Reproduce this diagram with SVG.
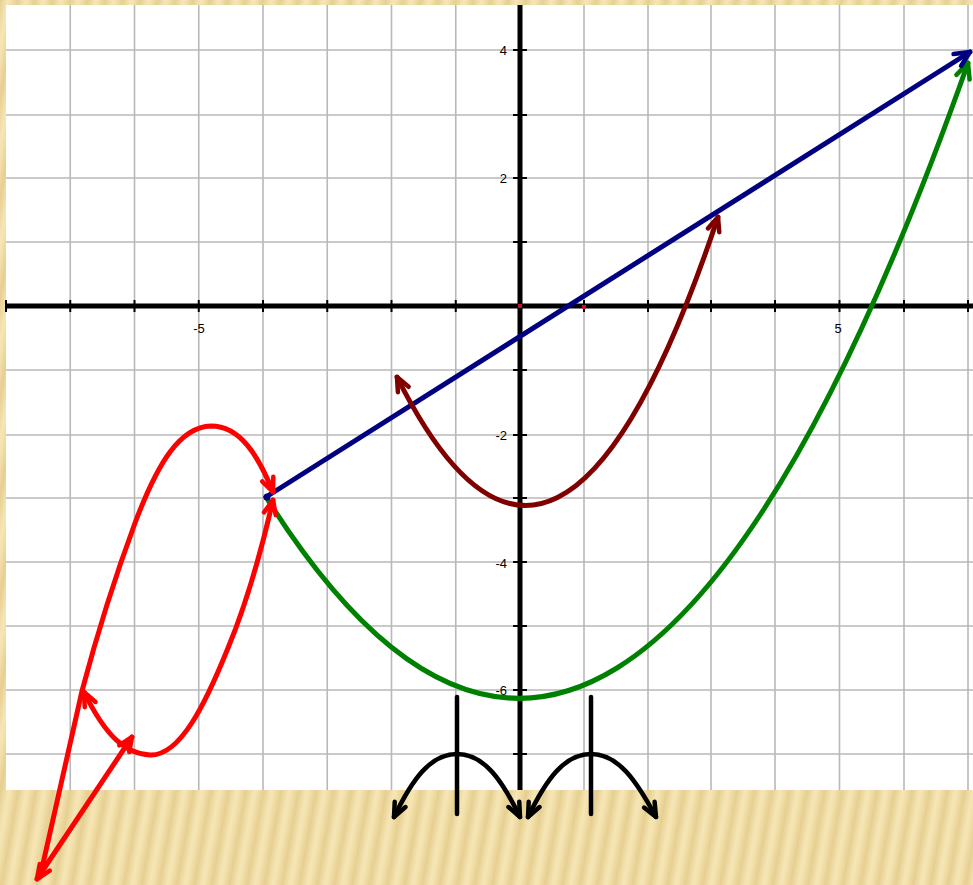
<svg xmlns="http://www.w3.org/2000/svg" width="973" height="885" viewBox="0 0 973 885">
<defs>
<linearGradient id="stripes" gradientUnits="userSpaceOnUse" x1="0" y1="0" x2="17" y2="3" spreadMethod="repeat">
<stop offset="0" stop-color="#E6CF91"/>
<stop offset="0.45" stop-color="#F6E6B6"/>
<stop offset="0.6" stop-color="#F4E2AE"/>
<stop offset="1" stop-color="#E6CF91"/>
</linearGradient>
<marker id="ar-red" viewBox="-18 -10 22 20" refX="0" refY="0" markerWidth="22" markerHeight="20" markerUnits="userSpaceOnUse" orient="auto-start-reverse" overflow="visible"><path d="M-14,-6 L0,0 L-14,6" fill="none" stroke="#FF0000" stroke-width="4.5" stroke-linecap="round" stroke-linejoin="round"/></marker>
<marker id="ar-maroon" viewBox="-18 -10 22 20" refX="0" refY="0" markerWidth="22" markerHeight="20" markerUnits="userSpaceOnUse" orient="auto-start-reverse" overflow="visible"><path d="M-14,-6 L0,0 L-14,6" fill="none" stroke="#800000" stroke-width="4.5" stroke-linecap="round" stroke-linejoin="round"/></marker>
<marker id="ar-blue" viewBox="-18 -10 22 20" refX="0" refY="0" markerWidth="22" markerHeight="20" markerUnits="userSpaceOnUse" orient="auto-start-reverse" overflow="visible"><path d="M-15,-7 L0,0 L-15,7" fill="none" stroke="#000080" stroke-width="4.5" stroke-linecap="round" stroke-linejoin="round"/></marker>
<marker id="ar-green" viewBox="-18 -10 22 20" refX="0" refY="0" markerWidth="22" markerHeight="20" markerUnits="userSpaceOnUse" orient="auto-start-reverse" overflow="visible"><path d="M-15,-7 L0,0 L-15,7" fill="none" stroke="#008000" stroke-width="4.5" stroke-linecap="round" stroke-linejoin="round"/></marker>
<marker id="ar-black" viewBox="-18 -10 22 20" refX="0" refY="0" markerWidth="22" markerHeight="20" markerUnits="userSpaceOnUse" orient="auto-start-reverse" overflow="visible"><path d="M-14,-6 L0,0 L-14,6" fill="none" stroke="#000000" stroke-width="4.5" stroke-linecap="round" stroke-linejoin="round"/></marker>
</defs>
<style>
.grid line{stroke:#B8B8B8;stroke-width:1.6}
.axis{stroke:#000;stroke-width:5}
.tick{stroke:#000;stroke-width:2}
.lbl{font-family:"Liberation Sans",Arial,sans-serif;font-size:13px;fill:#000}
.black{stroke:#000;fill:none;stroke-width:4.5;stroke-linecap:round}
</style>
<rect x="0" y="0" width="973" height="885" fill="url(#stripes)"/>
<rect x="6" y="5" width="967" height="785" fill="#FFFFFF"/>
<g id="grid" class="grid">
<line x1="70.25" y1="5" x2="70.25" y2="790"/>
<line x1="134.5" y1="5" x2="134.5" y2="790"/>
<line x1="198.75" y1="5" x2="198.75" y2="790"/>
<line x1="263" y1="5" x2="263" y2="790"/>
<line x1="327.25" y1="5" x2="327.25" y2="790"/>
<line x1="391.5" y1="5" x2="391.5" y2="790"/>
<line x1="455.75" y1="5" x2="455.75" y2="790"/>
<line x1="584" y1="5" x2="584" y2="790"/>
<line x1="648" y1="5" x2="648" y2="790"/>
<line x1="711" y1="5" x2="711" y2="790"/>
<line x1="775" y1="5" x2="775" y2="790"/>
<line x1="839.5" y1="5" x2="839.5" y2="790"/>
<line x1="904" y1="5" x2="904" y2="790"/>
<line x1="968" y1="5" x2="968" y2="790"/>
<line x1="6" y1="50" x2="973" y2="50"/>
<line x1="6" y1="115" x2="973" y2="115"/>
<line x1="6" y1="178" x2="973" y2="178"/>
<line x1="6" y1="242" x2="973" y2="242"/>
<line x1="6" y1="370" x2="973" y2="370"/>
<line x1="6" y1="435" x2="973" y2="435"/>
<line x1="6" y1="498" x2="973" y2="498"/>
<line x1="6" y1="562" x2="973" y2="562"/>
<line x1="6" y1="626" x2="973" y2="626"/>
<line x1="6" y1="690" x2="973" y2="690"/>
<line x1="6" y1="754" x2="973" y2="754"/>
</g>
<g id="axes">
<line class="axis" x1="6" y1="306" x2="973" y2="306"/>
<line class="axis" x1="520" y1="5" x2="520" y2="790"/>
<path class="tick" d="M6,300V312M70.25,300V312M134.5,300V312M198.75,300V312M263,300V312M327.25,300V312M391.5,300V312M455.75,300V312M584,300V312M648,300V312M711,300V312M775,300V312M839.5,300V312M904,300V312M968,300V312"/>
<path class="tick" d="M513,50H527M513,115H527M513,178H527M513,242H527M513,370H527M513,435H527M513,498H527M513,562H527M513,626H527M513,690H527M513,754H527"/>
<rect x="518" y="304" width="4" height="4" fill="#C8102E"/>
<rect x="582" y="305" width="4" height="4" fill="#C8102E"/>
</g>
<g id="labels" class="lbl">
<text x="507" y="55" text-anchor="end">4</text>
<text x="507" y="183" text-anchor="end">2</text>
<text x="507" y="440" text-anchor="end">-2</text>
<text x="507" y="568" text-anchor="end">-4</text>
<text x="507" y="695" text-anchor="end">-6</text>
<text x="199" y="333" text-anchor="middle">-5</text>
<text x="838" y="333" text-anchor="middle">5</text>
</g>
<g id="connectors">
<g id="green-curve">
<path d="M266,497 Q617,1056 968,63" fill="none" stroke="#008000" stroke-width="5" stroke-linecap="round" marker-end="url(#ar-green)"/>
</g>
<g id="blue-line">
<path d="M266,497 L970,52" fill="none" stroke="#000080" stroke-width="5" stroke-linecap="round" marker-end="url(#ar-blue)"/>
<circle cx="267" cy="497" r="3.5" fill="#000080"/>
</g>
<g id="maroon-curve">
<path d="M397,377 Q557.5,698 718,217" fill="none" stroke="#800000" stroke-width="5" stroke-linecap="round" marker-start="url(#ar-maroon)" marker-end="url(#ar-maroon)"/>
</g>
<g id="red-curves">
<path d="M40,877 L82,691 C95,642 112,585 135,523 C158,462 180,427 211,426 C240,426 258,455 273,492" fill="none" stroke="#FF0000" stroke-width="5" stroke-linecap="round" stroke-linejoin="round" marker-end="url(#ar-red)"/>
<path d="M273,500 C262,548 248,600 228,648 C205,705 180,756 150,755 C125,754 105,735 84,692" fill="none" stroke="#FF0000" stroke-width="5" stroke-linecap="round" marker-start="url(#ar-red)" marker-end="url(#ar-red)"/>
<path d="M37,879 L132,737" fill="none" stroke="#FF0000" stroke-width="5" stroke-linecap="round" marker-start="url(#ar-red)" marker-end="url(#ar-red)"/>
</g>
<g id="black-arcs">
<line class="black" x1="457" y1="697" x2="457" y2="814"/>
<line class="black" x1="591" y1="697" x2="591" y2="814"/>
<path class="black" d="M394,817 C412,780 430,754 457,754 C484,754 502,780 520,817" marker-start="url(#ar-black)" marker-end="url(#ar-black)"/>
<path class="black" d="M528,817 C546,780 564,754 591,754 C618,754 636,780 656,817" marker-start="url(#ar-black)" marker-end="url(#ar-black)"/>
</g>
</g>
</svg>
